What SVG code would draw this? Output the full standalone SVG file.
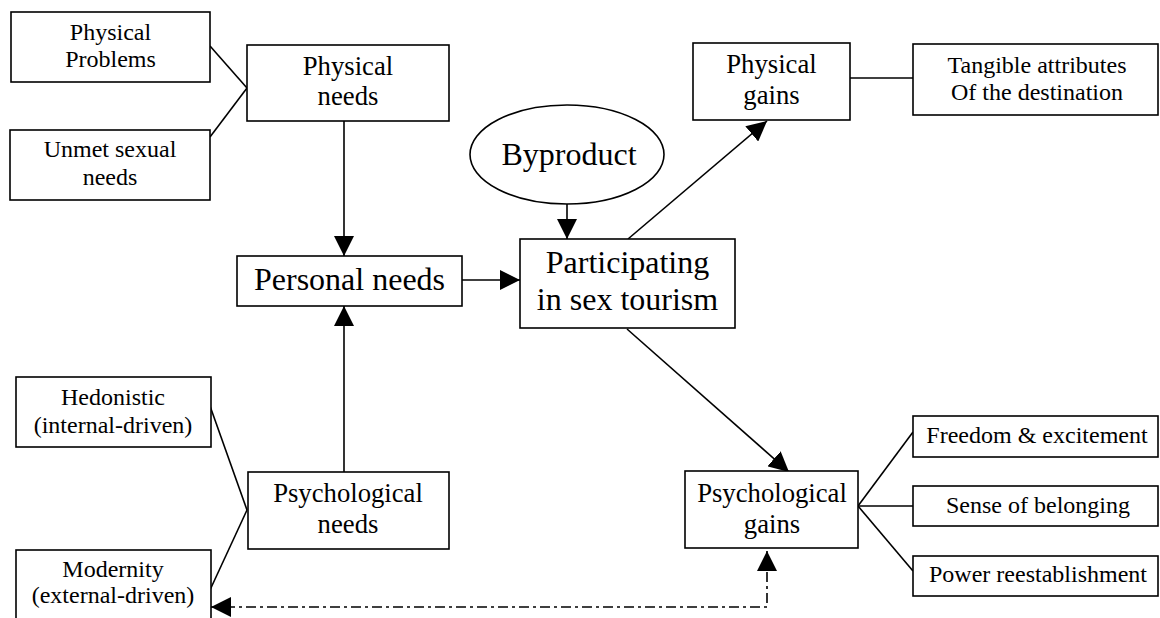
<svg xmlns="http://www.w3.org/2000/svg" width="1160" height="618" viewBox="0 0 1160 618">
<style>
.box{fill:#fff;stroke:#000;stroke-width:1.6}
.t{font-family:"Liberation Serif","Times New Roman",serif;fill:#000;text-anchor:middle}
.s{font-size:24px}
.m{font-size:26.7px}
.l{font-size:32px}
.c{fill:none;stroke:#000;stroke-width:1.6}
.d{stroke-dasharray:10 4 3 4}
</style>
<defs>
<marker id="ah" markerUnits="userSpaceOnUse" markerWidth="20" markerHeight="20" refX="20" refY="10" orient="auto-start-reverse" viewBox="0 0 20 20">
<path d="M0,0 L20,10 L0,20 z" fill="#000"/>
</marker>
</defs>
<rect width="1160" height="618" fill="#fff"/>
<g id="connectors">
<line class="c" x1="210" y1="46" x2="247" y2="88"/>
<line class="c" x1="210" y1="137" x2="247" y2="88"/>
<line class="c" x1="344" y1="121" x2="344" y2="256" marker-end="url(#ah)"/>
<line class="c" x1="344" y1="472" x2="344" y2="306" marker-end="url(#ah)"/>
<line class="c" x1="210" y1="406" x2="247" y2="510"/>
<line class="c" x1="210" y1="590" x2="247" y2="510"/>
<line class="c" x1="462" y1="280" x2="520" y2="280" marker-end="url(#ah)"/>
<line class="c" x1="567" y1="204" x2="567" y2="239" marker-end="url(#ah)"/>
<line class="c" x1="628" y1="239" x2="767" y2="121" marker-end="url(#ah)"/>
<line class="c" x1="850" y1="78" x2="913" y2="78"/>
<line class="c" x1="627" y1="329" x2="789" y2="472" marker-end="url(#ah)"/>
<line class="c" x1="858" y1="506" x2="913" y2="432"/>
<line class="c" x1="858" y1="506" x2="913" y2="506"/>
<line class="c" x1="858" y1="506" x2="913" y2="571"/>
<path class="c d" d="M767,551 L767,607 L211,607" marker-start="url(#ah)" marker-end="url(#ah)"/>
</g>
<g id="physical-problems">
<rect class="box" x="11" y="12" width="199" height="70"/>
<text class="t s" x="110.5" y="40">Physical</text>
<text class="t s" x="110.5" y="67">Problems</text>
</g>
<g id="unmet-sexual-needs">
<rect class="box" x="10" y="130" width="200" height="70"/>
<text class="t s" x="110" y="157">Unmet sexual</text>
<text class="t s" x="110" y="185">needs</text>
</g>
<g id="physical-needs">
<rect class="box" x="247" y="45" width="202" height="76"/>
<text class="t m" x="348" y="75">Physical</text>
<text class="t m" x="348" y="105">needs</text>
</g>
<g id="personal-needs">
<rect class="box" x="237" y="256" width="225" height="50"/>
<text class="t l" x="349.5" y="290">Personal needs</text>
</g>
<g id="byproduct">
<ellipse class="box" cx="567" cy="154.5" rx="97" ry="49.5"/>
<text class="t l" x="569" y="165">Byproduct</text>
</g>
<g id="participating">
<rect class="box" x="520" y="239" width="215" height="89"/>
<text class="t l" x="627.5" y="273">Participating</text>
<text class="t l" x="627.5" y="310">in sex tourism</text>
</g>
<g id="physical-gains">
<rect class="box" x="693" y="43" width="157" height="77"/>
<text class="t m" x="771.5" y="73">Physical</text>
<text class="t m" x="771.5" y="104">gains</text>
</g>
<g id="tangible-attributes">
<rect class="box" x="913" y="44" width="245" height="71"/>
<text class="t s" x="1037" y="73">Tangible attributes</text>
<text class="t s" x="1037" y="100">Of the destination</text>
</g>
<g id="hedonistic">
<rect class="box" x="16" y="377" width="195" height="70"/>
<text class="t s" x="113" y="405">Hedonistic</text>
<text class="t s" x="113" y="433">(internal-driven)</text>
</g>
<g id="modernity">
<rect class="box" x="16" y="550" width="195" height="75"/>
<text class="t s" x="113" y="577">Modernity</text>
<text class="t s" x="113" y="603">(external-driven)</text>
</g>
<g id="psychological-needs">
<rect class="box" x="248" y="472" width="201" height="77"/>
<text class="t m" x="348" y="502">Psychological</text>
<text class="t m" x="348" y="533">needs</text>
</g>
<g id="psychological-gains">
<rect class="box" x="685" y="471" width="173" height="77"/>
<text class="t m" x="772" y="502">Psychological</text>
<text class="t m" x="772" y="533">gains</text>
</g>
<g id="freedom">
<rect class="box" x="913" y="416" width="245" height="41"/>
<text class="t s" x="1037" y="443">Freedom &amp; excitement</text>
</g>
<g id="belonging">
<rect class="box" x="913" y="486" width="245" height="40"/>
<text class="t s" x="1038" y="513">Sense of belonging</text>
</g>
<g id="power">
<rect class="box" x="913" y="556" width="245" height="40"/>
<text class="t s" x="1038" y="582">Power reestablishment</text>
</g>
</svg>
